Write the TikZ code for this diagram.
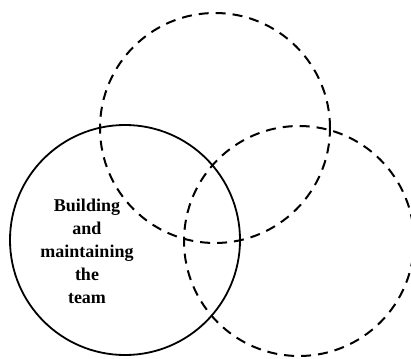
\documentclass[tikz,border=0pt]{standalone}
\usepackage{fontspec}
\setmainfont{Liberation Serif}
\begin{document}
\begin{tikzpicture}[x=1pt, y=-1pt,
    ring/.style={circle, draw, line width=1.8pt, minimum size=230pt, inner sep=0pt},
    dashring/.style={ring, line width=2pt, dash pattern=on 10pt off 7pt},
    teamtext/.style={font=\bfseries\fontsize{18}{23}\selectfont, align=center},
]
    \fill[white] (0,0) rectangle (411,358);
    \useasboundingbox (0,0) rectangle (411,358);
    \node[ring] (team) at (125,240) {};
    \node[dashring] (upper) at (215,128) {};
    \node[dashring] (right) at (299,241) {};
    \node[teamtext] (build) at (87,251) {Building\\and\\maintaining\\the\\team};
\end{tikzpicture}
\end{document}
